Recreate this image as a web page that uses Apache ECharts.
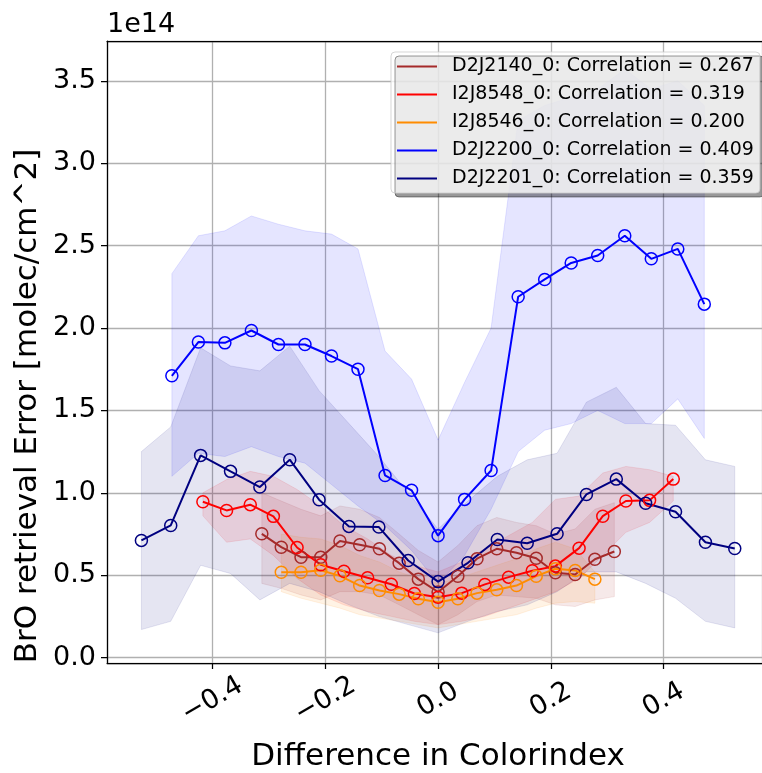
<!DOCTYPE html>
<html>
<head>
<meta charset="utf-8">
<script src="https://cdn.jsdelivr.net/npm/echarts@6/dist/echarts.min.js"></script>
<style>
  html, body { margin: 0; padding: 0; background: #fff; }
  #chart { width: 762px; height: 773px; }
</style>
</head>
<body>
<div id="chart"></div>
<script>
// BrO retrieval error (units of 1e14 molec/cm^2) binned by colour-index difference.
// Each orbit: bin centres, mean error, and the lower/upper spread envelope.

const xD2J2140 = [-0.3125,-0.278,-0.243,-0.208,-0.174,-0.139,-0.104,-0.069,-0.035,0,0.035,0.069,0.104,0.139,0.174,0.208,0.243,0.278,0.3125];
const meanD2J2140 = [0.751,0.670,0.609,0.609,0.707,0.685,0.660,0.573,0.476,0.398,0.494,0.600,0.660,0.636,0.603,0.515,0.504,0.597,0.644];
const loD2J2140 = [0.45,0.42,0.38,0.35,0.40,0.40,0.38,0.32,0.26,0.20,0.26,0.34,0.38,0.37,0.36,0.32,0.31,0.35,0.37];
const hiD2J2140 = [1.00,0.95,0.90,0.86,0.92,0.90,0.85,0.75,0.65,0.58,0.68,0.80,0.85,0.82,0.80,0.75,0.78,0.90,0.94];

const xI2J8548 = [-0.417,-0.375,-0.333,-0.292,-0.250,-0.208,-0.167,-0.125,-0.083,-0.042,0,0.042,0.083,0.125,0.167,0.208,0.250,0.292,0.333,0.375,0.417];
const meanI2J8548 = [0.946,0.893,0.928,0.857,0.668,0.563,0.524,0.484,0.445,0.389,0.366,0.391,0.444,0.488,0.527,0.555,0.664,0.858,0.950,0.954,1.083];
const loI2J8548 = [0.86,0.70,0.72,0.62,0.48,0.38,0.32,0.28,0.25,0.22,0.20,0.22,0.25,0.30,0.35,0.40,0.48,0.62,0.76,0.82,0.95];
const hiI2J8548 = [1.00,1.08,1.13,1.10,1.02,0.92,0.80,0.72,0.62,0.56,0.52,0.58,0.66,0.74,0.82,0.96,0.98,1.12,1.16,1.14,1.10];

const xI2J8546 = [-0.278,-0.243,-0.208,-0.174,-0.139,-0.104,-0.069,-0.035,0,0.035,0.069,0.104,0.139,0.174,0.208,0.243,0.278];
const meanI2J8546 = [0.518,0.518,0.530,0.496,0.437,0.407,0.385,0.357,0.336,0.357,0.391,0.411,0.437,0.494,0.539,0.529,0.476];
const loI2J8546 = [0.40,0.36,0.33,0.30,0.26,0.24,0.22,0.20,0.18,0.20,0.22,0.24,0.26,0.30,0.33,0.34,0.33];
const hiI2J8546 = [0.75,0.73,0.72,0.68,0.62,0.58,0.52,0.48,0.45,0.48,0.52,0.56,0.60,0.66,0.70,0.66,0.52];

const xD2J2200 = [-0.472,-0.425,-0.378,-0.331,-0.283,-0.236,-0.189,-0.142,-0.094,-0.047,0,0.047,0.094,0.142,0.189,0.236,0.283,0.331,0.378,0.425,0.472];
const meanD2J2200 = [1.710,1.915,1.910,1.985,1.900,1.900,1.830,1.750,1.105,1.015,0.740,0.960,1.135,2.190,2.295,2.395,2.440,2.560,2.420,2.480,2.145];
const loD2J2200 = [1.10,1.24,1.22,1.28,1.22,1.18,1.05,0.92,0.80,0.65,0.45,0.62,0.90,1.25,1.38,1.42,1.50,1.42,1.42,1.57,1.33];
const hiD2J2200 = [2.33,2.56,2.59,2.68,2.63,2.59,2.57,2.48,1.86,1.69,1.32,1.67,2.00,3.26,3.35,3.40,3.45,3.57,3.45,3.50,3.35];

const xD2J2201 = [-0.526,-0.474,-0.421,-0.368,-0.316,-0.263,-0.211,-0.158,-0.105,-0.053,0,0.053,0.105,0.158,0.211,0.263,0.316,0.368,0.421,0.474,0.526];
const meanD2J2201 = [0.711,0.802,1.227,1.130,1.035,1.201,0.958,0.796,0.792,0.589,0.461,0.575,0.717,0.694,0.751,0.990,1.083,0.937,0.885,0.700,0.662];
const loD2J2201 = [0.17,0.22,0.56,0.51,0.35,0.45,0.40,0.32,0.25,0.20,0.15,0.22,0.28,0.32,0.40,0.52,0.52,0.45,0.36,0.22,0.18];
const hiD2J2201 = [1.25,1.40,1.88,1.77,1.74,1.89,1.62,1.42,1.22,1.00,0.78,0.95,1.10,1.20,1.24,1.55,1.64,1.42,1.41,1.20,1.16];

const seriesNames = [
  'D2J2140_0: Correlation = 0.267',
  'I2J8548_0: Correlation = 0.319',
  'I2J8546_0: Correlation = 0.200',
  'D2J2200_0: Correlation = 0.409',
  'D2J2201_0: Correlation = 0.359'
];
const seriesColors = ['#a52a2a', '#ff0000', '#ff8c00', '#0000ff', '#000080'];

const xTickLabels = ['−0.4', '−0.2', '0.0', '0.2', '0.4'];
const yTickLabels = ['0.0', '0.5', '1.0', '1.5', '2.0', '2.5', '3.0', '3.5'];

const FONT = 'DejaVu Sans';
const X_MIN = -0.587, X_MAX = 0.5743;
const Y_MIN = -0.033, Y_MAX = 3.742;

function rgba(hex, a) {
  const n = parseInt(hex.slice(1), 16);
  return 'rgba(' + ((n >> 16) & 255) + ',' + ((n >> 8) & 255) + ',' + (n & 255) + ',' + a + ')';
}

// Spread envelope: one polygon, upper edge left-to-right then lower edge back.
function bandSeries(xs, lo, hi, color) {
  return {
    type: 'custom',
    silent: true,
    z: 1,
    data: xs.map((x, i) => [x, lo[i], hi[i]]),
    encode: { x: 0, y: [1, 2] },
    renderItem: function (params, api) {
      if (params.dataIndex !== 0) return null;
      const pts = [];
      for (let i = 0; i < xs.length; i++) pts.push(api.coord([xs[i], hi[i]]));
      for (let i = xs.length - 1; i >= 0; i--) pts.push(api.coord([xs[i], lo[i]]));
      return {
        type: 'polygon',
        shape: { points: pts },
        style: { fill: rgba(color, 0.1), stroke: rgba(color, 0.1), lineWidth: 1 }
      };
    }
  };
}

function lineSeries(name, xs, ys, color) {
  return {
    type: 'line',
    name: name,
    z: 3,
    data: xs.map((x, i) => [x, ys[i]]),
    symbol: 'circle',
    symbolSize: 12,
    showSymbol: true,
    showAllSymbol: true,
    lineStyle: { color: color, width: 2 },
    itemStyle: { color: 'rgba(0,0,0,0)', borderColor: color, borderWidth: 1.5 },
    emphasis: { disabled: true }
  };
}

const groups = [
  [xD2J2140, meanD2J2140, loD2J2140, hiD2J2140],
  [xI2J8548, meanI2J8548, loI2J8548, hiI2J8548],
  [xI2J8546, meanI2J8546, loI2J8546, hiI2J8546],
  [xD2J2200, meanD2J2200, loD2J2200, hiD2J2200],
  [xD2J2201, meanD2J2201, loD2J2201, hiD2J2201]
];

const series = [];
groups.forEach((g, k) => series.push(bandSeries(g[0], g[2], g[3], seriesColors[k])));
groups.forEach((g, k) => series.push(lineSeries(seriesNames[k], g[0], g[1], seriesColors[k])));

function fmtTick(list) {
  return function (v) {
    const s = (Math.abs(v) < 1e-9 ? 0 : v).toFixed(1).replace('-', '−');
    return list.indexOf(s) >= 0 ? s : '';
  };
}

const chart = echarts.init(document.getElementById('chart'), null, { renderer: 'canvas' });
chart.setOption({
  animation: false,
  backgroundColor: '#ffffff',
  grid: { left: 107, top: 41, right: 0, bottom: 110, show: false },
  xAxis: [{
    type: 'value',
    min: X_MIN, max: X_MAX,
    minInterval: 0.2, maxInterval: 0.2,
    axisLine: { show: true, onZero: false, lineStyle: { color: '#000', width: 1.25 } },
    axisTick: { show: true, length: 6, lineStyle: { color: '#000', width: 1.25 } },
    axisLabel: {
      show: true, interval: 0, rotate: 30, align: 'center', verticalAlign: 'middle',
      margin: 37, fontSize: 27, fontFamily: FONT, color: '#000',
      showMinLabel: false, showMaxLabel: false,
      formatter: fmtTick(xTickLabels)
    },
    splitLine: { show: true, lineStyle: { color: '#b0b0b0', width: 1.3 } }
  }, {
    // top spine of the frame
    type: 'value', position: 'top',
    min: X_MIN, max: X_MAX,
    axisLine: { show: true, onZero: false, lineStyle: { color: '#000', width: 1.25 } },
    axisTick: { show: false }, axisLabel: { show: false }, splitLine: { show: false }
  }],
  yAxis: {
    type: 'value',
    min: Y_MIN, max: Y_MAX,
    minInterval: 0.5, maxInterval: 0.5,
    axisLine: { show: true, onZero: false, lineStyle: { color: '#000', width: 1.25 } },
    axisTick: { show: true, length: 6, lineStyle: { color: '#000', width: 1.25 } },
    axisLabel: {
      show: true, margin: 11, fontSize: 27, fontFamily: FONT, color: '#000',
      showMinLabel: false, showMaxLabel: false,
      formatter: fmtTick(yTickLabels)
    },
    splitLine: { show: true, lineStyle: { color: '#b0b0b0', width: 1.3 } }
  },
  legend: {
    orient: 'vertical',
    left: 391, top: 52,
    padding: [5, 6, 5, 6],
    itemWidth: 40, itemHeight: 2.2, itemGap: 9,
    backgroundColor: 'rgba(255,255,255,0.8)',
    borderColor: 'rgba(204,204,204,0.8)', borderWidth: 1, borderRadius: 4,
    shadowColor: 'rgba(0,0,0,0.5)', shadowBlur: 0, shadowOffsetX: 4, shadowOffsetY: 4,
    selectedMode: false,
    textStyle: { fontSize: 19, fontFamily: FONT, color: '#000', padding: [0, 0, 0, 10] },
    data: seriesNames.map((n, k) => ({
      name: n, icon: 'rect',
      itemStyle: { color: seriesColors[k], borderWidth: 0 }
    }))
  },
  graphic: [
    { type: 'text', left: 107, top: 11, style: { text: '1e14', font: '27px "DejaVu Sans"', fill: '#000' } },
    { type: 'text', x: 438, y: 757, style: { text: 'Difference in Colorindex', font: '31px "DejaVu Sans"', fill: '#000', align: 'center', verticalAlign: 'middle' } },
    { type: 'text', x: 28, y: 406, rotation: Math.PI / 2, style: { text: 'BrO retrieval Error [molec/cm^2]', font: '31px "DejaVu Sans"', fill: '#000', align: 'center', verticalAlign: 'middle' } }
  ],
  series: series
});
</script>
</body>
</html>
